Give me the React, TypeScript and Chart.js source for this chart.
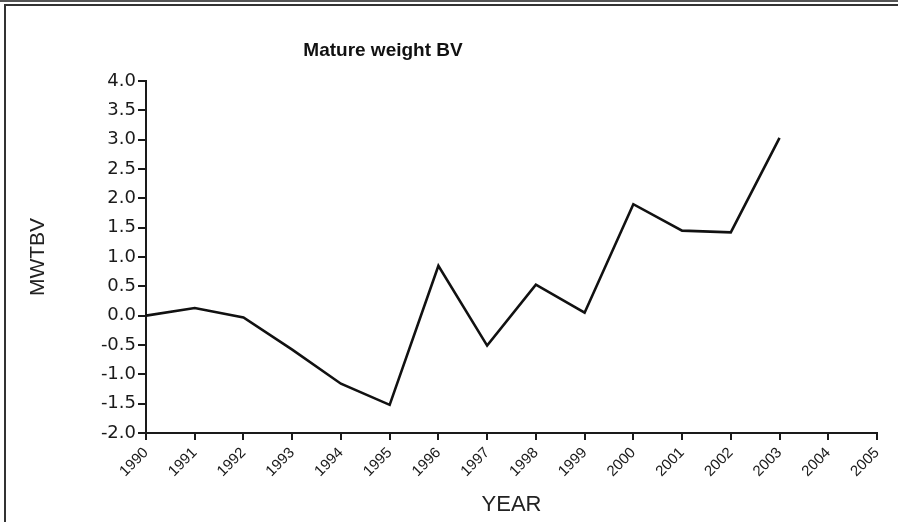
import React, { useEffect, useRef } from "react";
import { Chart, registerables } from "chart.js";

Chart.register(...registerables);

const chartTitle = "Mature weight BV";
const xAxisTitle = "YEAR";
const yAxisTitle = "MWTBV";
const years = [1990, 1991, 1992, 1993, 1994, 1995, 1996, 1997, 1998, 1999, 2000, 2001, 2002, 2003];
const mwtbv = [0.0, 0.13, -0.03, -0.58, -1.16, -1.52, 0.85, -0.51, 0.53, 0.05, 1.9, 1.45, 1.42, 3.03];
const xMin = 1990;
const xMax = 2005;
const yMin = -2.0;
const yMax = 4.0;
const yStep = 0.5;

const W = 898;
const H = 522;
const FONT = "'Liberation Sans', Arial, Helvetica, sans-serif";
const WIDE_FONT = "'DejaVu Sans', Verdana, sans-serif";
const INK = "#1a1a1a";
const TITLE_CENTER_X = 383;

const shiftTitle = {
  id: "shiftTitle",
  afterLayout(chart: any) {
    const tb = chart.titleBlock;
    if (tb) {
      const half = (tb.right - tb.left) / 2;
      tb.left = TITLE_CENTER_X - half;
      tb.right = TITLE_CENTER_X + half;
    }
  },
};

export default function App() {
  const ref = useRef<HTMLCanvasElement | null>(null);
  useEffect(() => {
    if (!ref.current) return;
    const chart = new Chart(ref.current, {
      type: "line",
      data: {
        datasets: [
          {
            label: yAxisTitle,
            data: years.map((yr, i) => ({ x: yr, y: mwtbv[i] })),
            borderColor: "#111",
            borderWidth: 2.6,
            pointRadius: 0,
            tension: 0,
            fill: false,
          },
        ],
      },
      plugins: [shiftTitle],
      options: {
        animation: false,
        responsive: false,
        maintainAspectRatio: false,
        layout: { padding: { left: 0, right: 21, top: 0, bottom: 0 } },
        plugins: {
          legend: { display: false },
          tooltip: { enabled: false },
          title: {
            display: true,
            text: chartTitle,
            color: "#111",
            font: { family: FONT, size: 19, weight: "bold" },
            padding: { top: 39.6, bottom: 18.6 },
          },
        },
        scales: {
          x: {
            type: "linear",
            min: xMin,
            max: xMax,
            afterFit(scale: any) {
              scale.height = 89;
            },
            ticks: {
              stepSize: 1,
              autoSkip: false,
              maxRotation: 45,
              minRotation: 45,
              padding: 4,
              color: INK,
              font: { family: FONT, size: 15 },
              callback: (v: any) => String(v),
            },
            grid: {
              display: true,
              drawOnChartArea: false,
              drawTicks: true,
              tickLength: 7,
              color: INK,
              lineWidth: 2,
            },
            border: { display: true, color: INK, width: 2 },
            title: {
              display: true,
              text: xAxisTitle,
              color: "#222",
              font: { family: FONT, size: 22 },
              padding: { top: 0, bottom: 4 },
            },
          },
          y: {
            type: "linear",
            min: yMin,
            max: yMax,
            afterFit(scale: any) {
              scale.width = 146;
            },
            ticks: {
              stepSize: yStep,
              padding: 2,
              color: INK,
              font: { family: WIDE_FONT, size: 18 },
              callback: (v: any) => Number(v).toFixed(1),
            },
            grid: {
              display: true,
              drawOnChartArea: false,
              drawTicks: true,
              tickLength: 8,
              color: INK,
              lineWidth: 2,
            },
            border: { display: true, color: INK, width: 2 },
            title: {
              display: true,
              text: yAxisTitle,
              color: "#222",
              font: { family: FONT, size: 21 },
              padding: { top: 25.4, bottom: 0 },
            },
          },
        },
      },
    } as any);
    return () => chart.destroy();
  }, []);

  return (
    <div style={{ position: "absolute", left: 0, top: 0, width: W, height: H, background: "#fff", overflow: "hidden" }}>
      <canvas ref={ref} width={W} height={H} style={{ position: "absolute", left: 0, top: 0 }} />
      <div style={{ position: "absolute", left: 0, top: 0, width: W, height: 2, background: "#555" }} />
      <div style={{ position: "absolute", left: 4, top: 4, width: W - 4, height: 2, background: "#333" }} />
      <div style={{ position: "absolute", left: 4, top: 4, width: 2, height: H - 4, background: "#333" }} />
    </div>
  );
}
